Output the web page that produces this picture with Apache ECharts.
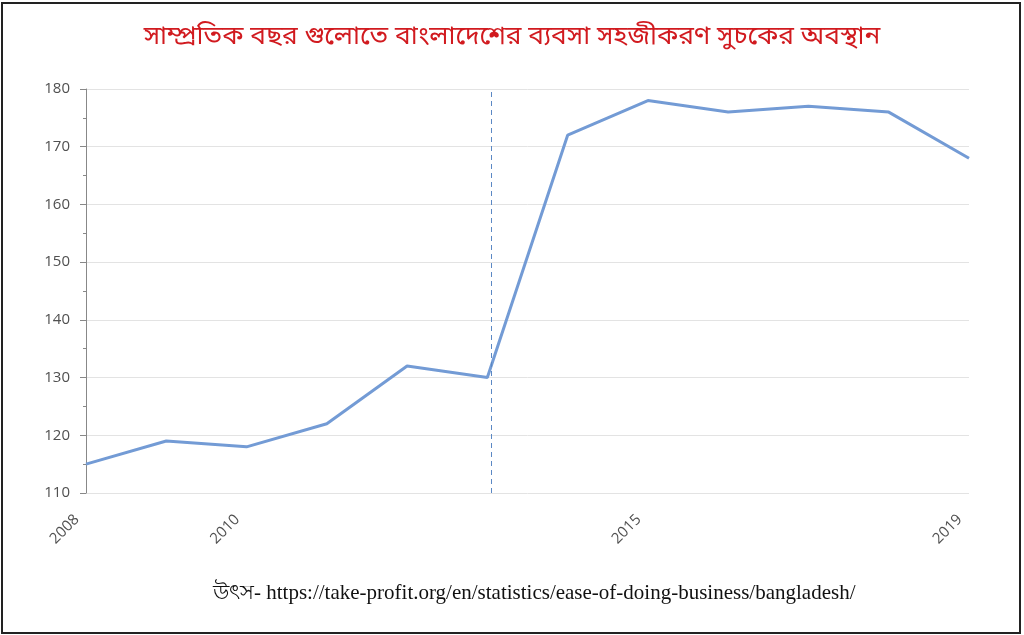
<!DOCTYPE html>
<html>
<head>
<meta charset="utf-8">
<script src="https://cdn.jsdelivr.net/npm/echarts@6/dist/echarts.min.js"></script>
<style>
html,body{margin:0;padding:0;background:#fff;}
#frame{position:absolute;left:1px;top:2px;width:1016px;height:628px;border:2px solid #222;}
#chart{position:absolute;left:0;top:0;width:1024px;height:635px;}
</style>
</head>
<body>
<div id="frame"></div>
<div id="chart"></div>
<script>
const titleText = 'সাম্প্রতিক বছর গুলোতে বাংলাদেশের ব্যবসা সহজীকরণ সুচকের অবস্থান';
const sourceText = 'উৎস- https://take-profit.org/en/statistics/ease-of-doing-business/bangladesh/';
const years = [2008, 2009, 2010, 2011, 2012, 2013, 2014, 2015, 2016, 2017, 2018, 2019];
const rankValues = [115, 119, 118, 122, 132, 130, 172, 178, 176, 177, 176, 168];
const xLabelYears = [2008, 2010, 2015, 2019];
const yTicks = [110, 120, 130, 140, 150, 160, 170, 180];
const dividerYear = 2013.05;

const chart = echarts.init(document.getElementById('chart'));
chart.setOption({
  animation: false,
  backgroundColor: 'transparent',
  title: {
    text: titleText,
    left: 'center',
    top: 21,
    textStyle: {color: '#d11a1f', fontSize: 26.3, fontWeight: 'normal', fontFamily: '"Noto Sans Bengali","Noto Serif Bengali","Lohit Bengali",sans-serif'}
  },
  grid: {left: 86, right: 55, top: 89, bottom: 142},
  xAxis: {
    type: 'value',
    min: years[0],
    max: years[years.length - 1],
    interval: 1,
    axisLine: {show: false},
    axisTick: {show: false},
    splitLine: {show: false},
    axisLabel: {
      rotate: 45,
      color: '#505050',
      fontSize: 15,
      fontFamily: '"Open Sans"',
      margin: 15,
      padding: [0, 13, 0, 0],
      formatter: v => xLabelYears.includes(v) ? String(v) : ''
    }
  },
  yAxis: {
    type: 'value',
    min: yTicks[0],
    max: yTicks[yTicks.length - 1],
    interval: 10,
    axisLine: {show: true, lineStyle: {color: '#888', width: 1}},
    axisTick: {show: true, inside: false, length: 6, lineStyle: {color: '#888'}},
    minorTick: {show: true, splitNumber: 2, length: 3, lineStyle: {color: '#888'}},
    splitLine: {show: true, lineStyle: {color: '#e3e3e3', width: 1}},
    axisLabel: {color: '#505050', fontSize: 15, fontFamily: '"Open Sans"', margin: 16}
  },
  series: [{
    type: 'line',
    data: years.map((y, i) => [y, rankValues[i]]),
    showSymbol: false,
    symbol: 'none',
    lineStyle: {color: '#739bd5', width: 3},
    markLine: {
      silent: true,
      symbol: 'none',
      label: {show: false},
      lineStyle: {color: '#5b88c4', type: [5, 4], width: 1},
      data: [{xAxis: dividerYear}]
    }
  }],
  graphic: [{
    type: 'text',
    left: 213,
    top: 583,
    style: {text: sourceText, fill: '#111', fontSize: 21, fontFamily: '"Liberation Serif","DejaVu Serif",serif'}
  }]
});
</script>
</body>
</html>
